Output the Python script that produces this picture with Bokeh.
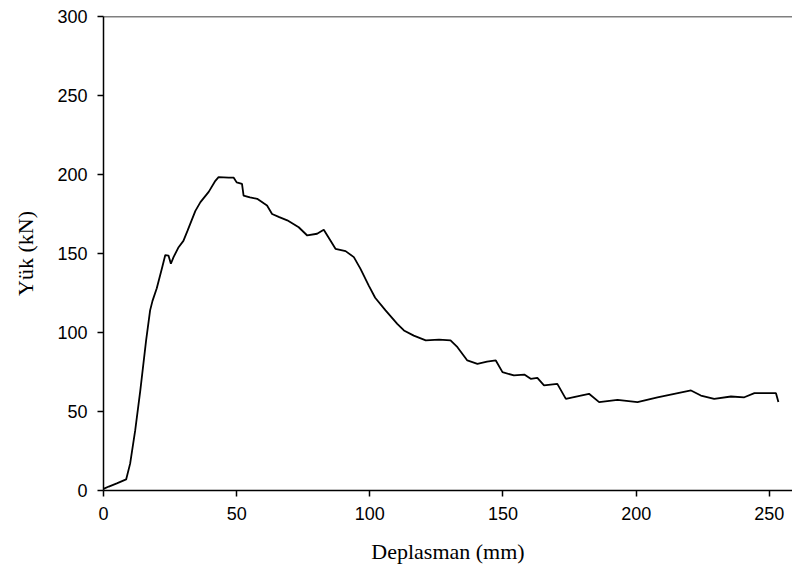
from bokeh.plotting import figure
from bokeh.models import Range1d, FixedTicker, Span
from bokeh.embed import file_html
from bokeh.resources import INLINE

disp = [0, 2, 5, 8.5, 10, 11.9, 13.8, 16, 17.5, 18.4, 20, 22, 23.2, 24.4, 25.3,
        26.3, 28.2, 30, 31.6, 34.5, 36.4, 39.5, 42, 43.2, 47, 48.9, 50, 52, 52.6, 55,
        57.7, 61.4, 63.3, 66, 69, 73.3, 76.5, 80.2, 82.7, 85.2, 87.1, 90.9, 94, 96.5, 99.6,
        102, 105.9, 110.3, 112.8, 116.5, 121, 126, 130.3, 132.9, 136.6, 140.4, 144, 147.3, 149.8, 154.1,
        158, 160.4, 162.9, 165.4, 170.4, 173.6, 179.2, 182.3, 186.1, 193, 200.5, 208, 214.3, 220.6, 224.3,
        229.3, 235.6, 240.6, 244.4, 252.5, 253.4]
load = [1, 2.5, 4.5, 7, 17, 38, 63, 95, 114, 120, 128, 141, 149, 148.7, 143.5,
        147.7, 154, 158, 164.6, 177, 182.5, 189, 196, 198.3, 198, 198, 195, 194, 186.7, 185.5,
        184.6, 180.4, 175, 173, 171, 166.6, 161.4, 162.5, 165, 158.2, 153, 151.5, 147.7, 140.3, 129.7,
        122, 114, 105.5, 101.3, 98, 95, 95.5, 95, 90.7, 82.3, 80.2, 81.5, 82.3, 74.9, 72.8,
        73.4, 70.7, 71.3, 66.5, 67.5, 58, 60.1, 61.2, 55.9, 57.4, 55.9, 59, 61.2, 63.3, 60.1,
        58, 59.5, 59, 61.6, 61.6, 56]

x_ticks = [0, 50, 100, 150, 200, 250]
y_ticks = [0, 50, 100, 150, 200, 250, 300]

p = figure(width=792, height=575, output_backend="svg", toolbar_location=None,
           x_range=Range1d(0, 258.7), y_range=Range1d(0, 300),
           min_border_left=103, min_border_right=0, min_border_top=16, min_border_bottom=85)
p.background_fill_color = "white"
p.border_fill_color = "white"
p.outline_line_color = None
p.grid.visible = False

p.line(disp, load, line_color="black", line_width=1.8)

p.add_layout(Span(location=300, dimension="width", line_color="black", line_width=1.5))

p.xaxis.ticker = FixedTicker(ticks=x_ticks)
p.yaxis.ticker = FixedTicker(ticks=y_ticks)
for ax in (p.xaxis[0], p.yaxis[0]):
    ax.axis_line_color = "black"
    ax.axis_line_width = 1.5
    ax.major_tick_line_color = "black"
    ax.major_tick_line_width = 1.5
    ax.major_tick_in = 0
    ax.major_tick_out = 6
    ax.minor_tick_line_color = None
    ax.major_label_text_font = "Liberation Sans"
    ax.major_label_text_font_size = "18px"
    ax.major_label_text_color = "black"
    ax.major_label_standoff = 10
    ax.axis_label_text_font = "Liberation Serif"
    ax.axis_label_text_font_size = "22px"
    ax.axis_label_text_font_style = "normal"
    ax.axis_label_text_color = "black"

p.xaxis.axis_label = "Deplasman (mm)"
p.yaxis.axis_label = "Yük (kN)"
p.xaxis.axis_label_standoff = 16
p.yaxis.axis_label_standoff = 16

open("out.html", "w").write(file_html(p, INLINE))
